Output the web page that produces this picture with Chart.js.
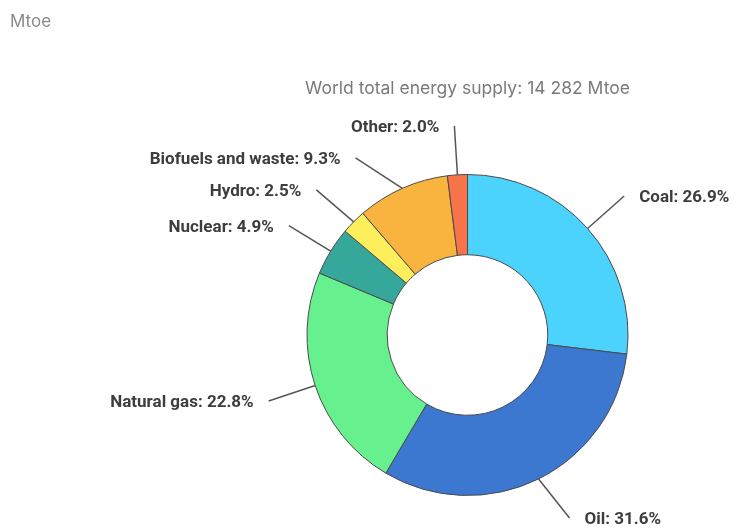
<!DOCTYPE html>
<html>
<head>
<meta charset="utf-8">
<script src="https://cdn.jsdelivr.net/npm/chart.js@4"></script>
<style>
  html, body { margin: 0; padding: 0; background: #fff; }
  #wrap { width: 739px; height: 528px; position: relative; }
</style>
</head>
<body>
<div id="wrap"><canvas id="energyChart"></canvas></div>
<script>
const ctx = document.getElementById("energyChart");

// sources, shares (%) and slice colours
const sources = ["Coal", "Oil", "Natural gas", "Nuclear", "Hydro", "Biofuels and waste", "Other"];
const shares = [26.9, 31.6, 22.8, 4.9, 2.5, 9.3, 2.0];
const colors = ["#4bd3fe", "#3c77d0", "#67f18e", "#35a89b", "#fdef5b", "#f9b43f", "#f7744a"];

const unitLabel = "Mtoe";
const totalLabel = "World total energy supply: 14 282 Mtoe";


// leader lines + labels, drawn from each arc's own geometry
const leaderLabels = {
    id: "leaderLabels",
    afterDraw(chart) {
        const c = chart.ctx;
        const meta = chart.getDatasetMeta(0);
        const bottomLimit = chart.height - 10;
        const gap = 32;

        const items = meta.data.map((arc, i) => {
            const p = arc.getProps(["x", "y", "startAngle", "endAngle", "outerRadius"], true);
            const mid = (p.startAngle + p.endAngle) / 2;
            const R = p.outerRadius + 49;
            return {
                i, cx: p.x, cy: p.y, R,
                x0: p.x + Math.cos(mid) * p.outerRadius,
                y0: p.y + Math.sin(mid) * p.outerRadius,
                y1: p.y + Math.sin(mid) * R,
                right: Math.cos(mid) >= 0
            };
        });

        // push labels apart on each side
        [true, false].forEach(side => {
            const list = items.filter(d => d.right === side).sort((a, b) => a.y1 - b.y1);
            for (let k = 1; k < list.length; k++) {
                list[k].y1 = Math.max(list[k].y1, list[k - 1].y1 + gap);
            }
            for (let k = list.length - 1; k >= 0; k--) {
                const lim = k === list.length - 1 ? bottomLimit : list[k + 1].y1 - gap;
                list[k].y1 = Math.min(list[k].y1, lim);
            }
        });

        c.save();
        items.forEach(d => {
            const dy = d.y1 - d.cy;
            const dx = Math.sqrt(Math.max(0, d.R * d.R - dy * dy));
            const x1 = d.right ? d.cx + dx : d.cx - dx;

            c.strokeStyle = "#555";
            c.lineWidth = 1.5;
            c.beginPath();
            c.moveTo(d.x0, d.y0);
            c.lineTo(x1, d.y1);
            c.stroke();

            c.fillStyle = "#3d3d3d";
            c.font = "bold 17px Roboto, 'Noto Sans', sans-serif";
            c.textBaseline = "middle";
            c.textAlign = d.right ? "left" : "right";
            c.fillText(`${sources[d.i]}: ${shares[d.i].toFixed(1)}%`, d.right ? x1 + 15 : x1 - 15, d.y1 + 2);
        });

        // top texts
        c.fillStyle = "#8a8a8a";
        c.font = "17px Inter, Roboto, sans-serif";
        c.textAlign = "left";
        c.textBaseline = "middle";
        c.fillText(unitLabel, 10, 22);

        const cx = meta.data[0].x;
        c.fillStyle = "#7a7a7a";
        c.font = "17.5px Inter, Roboto, sans-serif";
        c.textAlign = "center";
        c.fillText(totalLabel, cx, 89);

        c.restore();
    }
};


new Chart(ctx, {

    type: "doughnut",

    data: {
        labels: sources,
        datasets: [{
            data: shares,
            backgroundColor: colors,
            borderColor: "#4a4a4a",
            borderWidth: 1
        }]
    },

    options: {
        responsive: true,
        maintainAspectRatio: false,
        animation: false,
        events: [],
        cutout: "50%",
        layout: {
            padding: { left: 306, right: 110, top: 174, bottom: 32 }
        },
        plugins: {
            legend: { display: false },
            tooltip: { enabled: false }
        }
    },

    plugins: [leaderLabels]

});
</script>
</body>
</html>
